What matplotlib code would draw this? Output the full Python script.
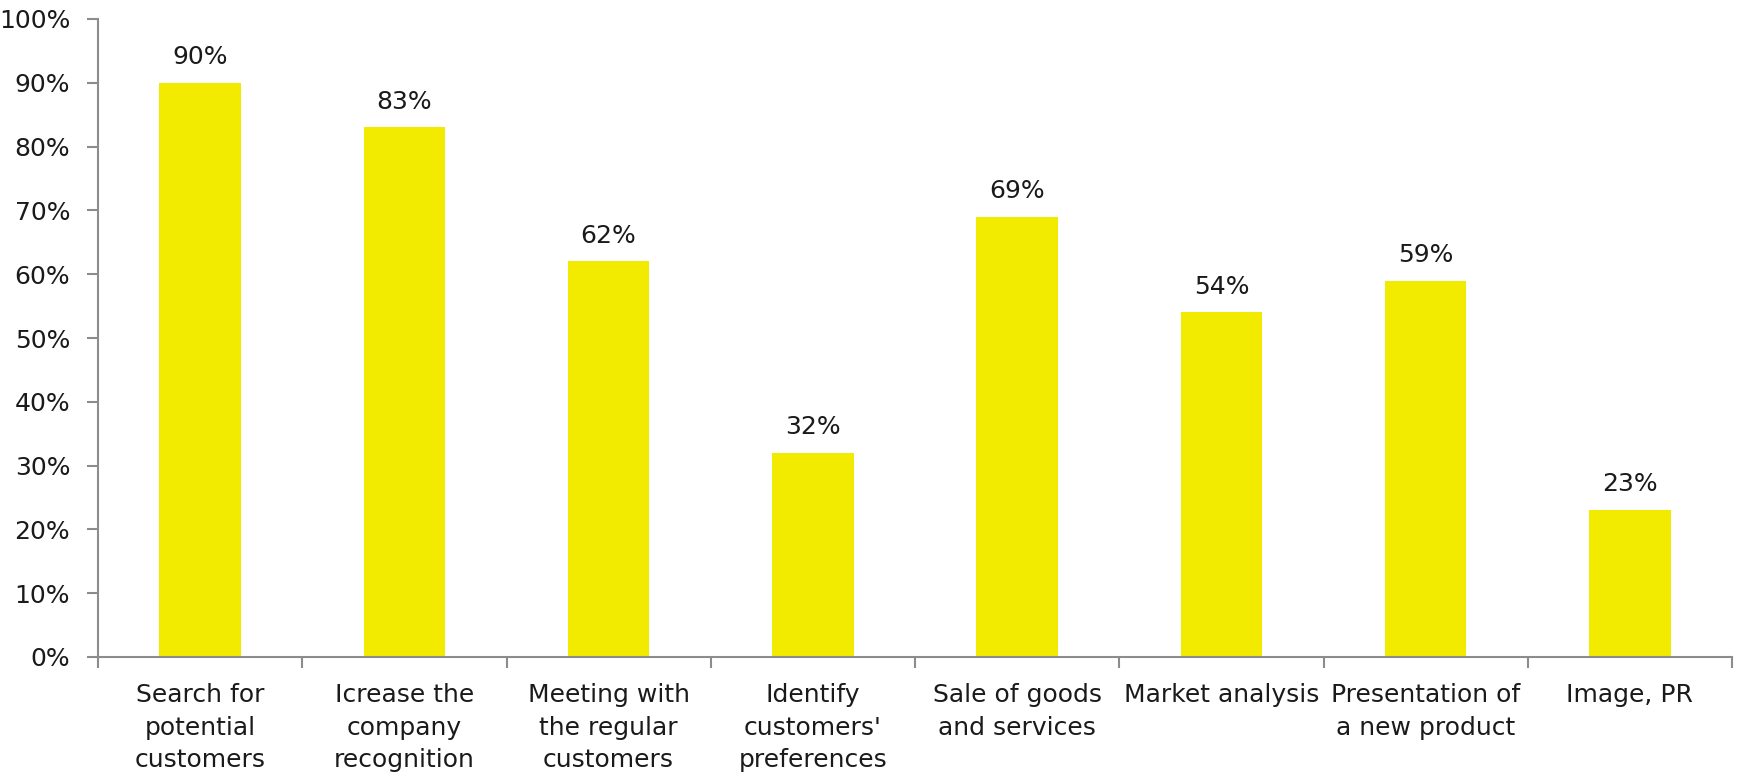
import matplotlib
matplotlib.use("Agg")
import matplotlib.pyplot as plt
import numpy as np

categories = [
    "Search for\npotential\ncustomers",
    "Icrease the\ncompany\nrecognition",
    "Meeting with\nthe regular\ncustomers",
    "Identify\ncustomers'\npreferences",
    "Sale of goods\nand services",
    "Market analysis",
    "Presentation of\na new product",
    "Image, PR",
]
values = [90, 83, 62, 32, 69, 54, 59, 23]
yticks = list(range(0, 101, 10))

plt.rcParams['font.family'] = ['DejaVu Sans']
fig = plt.figure(figsize=(17.37, 7.72), dpi=100)
ax = fig.add_axes([98/1737, 1 - 657/772, (1732 - 98)/1737, (657 - 19)/772])

x = np.arange(len(categories))
bars = ax.bar(x, values, width=0.4, color='#F2EB00')
ax.bar_label(bars, labels=[f"{v}%" for v in values], padding=10, fontsize=18, color='#1a1a1a')

ax.set_xlim(-0.5, len(categories) - 0.5)
ax.set_ylim(0, 100)
ax.set_yticks(yticks)
ax.set_yticklabels([f"{t}%" for t in yticks])
ax.set_xticks(np.arange(len(categories) + 1) - 0.5)
ax.set_xticklabels([])
ax.set_xticks(x, minor=True)
ax.set_xticklabels(categories, minor=True)

gray = '#8c8c8c'
for s in ['top', 'right']:
    ax.spines[s].set_visible(False)
for s in ['left', 'bottom']:
    ax.spines[s].set_color(gray)
    ax.spines[s].set_linewidth(1.5)

ax.tick_params(axis='y', which='major', length=8, width=1.5, color=gray, labelsize=18, pad=12, labelcolor='#1a1a1a')
ax.tick_params(axis='x', which='major', length=8, width=1.5, color=gray)
ax.tick_params(axis='x', which='minor', length=0, labelsize=18, pad=19, labelcolor='#1a1a1a')
for lbl in ax.get_xticklabels(minor=True):
    lbl.set_linespacing(1.45)

fig.savefig("out.png", dpi=100)
